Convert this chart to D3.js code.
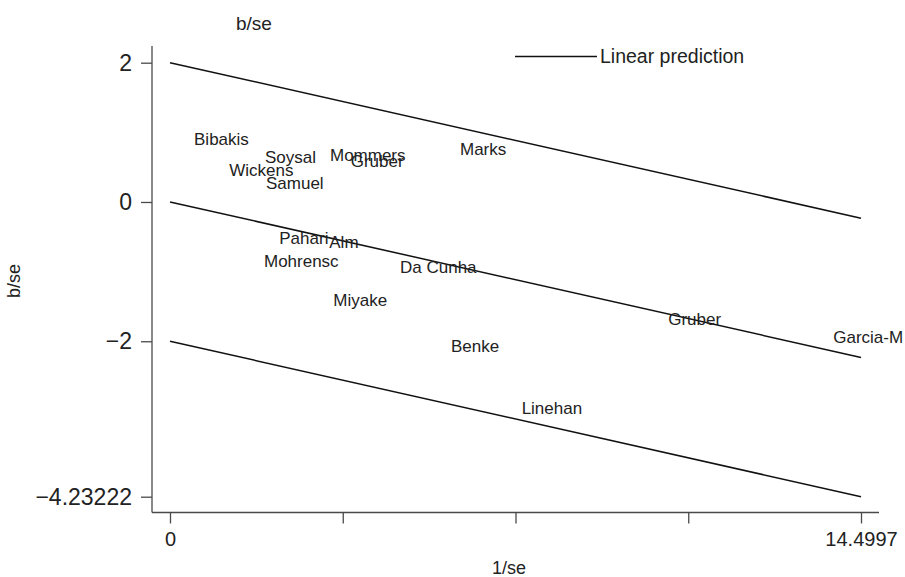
<!DOCTYPE html>
<html>
<head>
<meta charset="utf-8">
<script src="https://cdn.jsdelivr.net/npm/d3@7"></script>
<style>
  html, body { margin: 0; padding: 0; background: #fff; }
  svg { display: block; }
  text { font-family: "Liberation Sans", Arial, Helvetica, sans-serif; fill: #222; }
</style>
</head>
<body>
<svg id="chart" width="905" height="577"></svg>
<script>
// Study labels and their standardized coordinates (1/se, b/se)
const studies = ["Bibakis", "Soysal", "Wickens", "Samuel", "Mommers", "Gruber", "Marks",
                 "Pahari", "Alm", "Mohrensc", "Da Cunha", "Miyake", "Benke", "Gruber",
                 "Garcia-M", "Linehan"];
const precision = [0.504, 1.993, 1.244, 2.014, 3.357, 3.791, 6.085,
                   2.293, 3.342, 1.972, 4.826, 3.426, 5.896, 10.455,
                   13.917, 7.379];
const zScore = [0.905, 0.650, 0.459, 0.269, 0.675, 0.593, 0.761,
                -0.521, -0.579, -0.847, -0.938, -1.407, -2.068, -1.684,
                -1.943, -2.962];

// Fitted line (through origin) and the ±2 bands
const slope = -0.15395;
const intercepts = [2, 0, -2];

// Axis ticks
const xTicks = [0, 3.624925, 7.24985, 10.874775, 14.4997];
const xTickLabels = ["0", "", "", "", "14.4997"];
const yTicks = [2, 0, -2, -4.23222];
const yTickLabels = ["2", "0", "\u22122", "\u22124.23222"];

const svg = d3.select("#chart");

const x = d3.scaleLinear().domain([0, 14.4997]).range([170, 861]);
const y = d3.scaleLinear().domain([-4.23222, 2]).range([496.7, 62.7]);

// Axes
const axisColor = "#4a4a4a";
svg.append("line")
  .attr("x1", 152).attr("x2", 152).attr("y1", 46).attr("y2", 512.5)
  .attr("stroke", axisColor).attr("stroke-width", 1.3);
svg.append("line")
  .attr("x1", 152).attr("x2", 879).attr("y1", 512.5).attr("y2", 512.5)
  .attr("stroke", axisColor).attr("stroke-width", 1.3);

const yAxis = d3.axisLeft(y)
  .tickValues(yTicks)
  .tickFormat((d, i) => yTickLabels[i])
  .tickSize(11).tickPadding(9);
const gy = svg.append("g").attr("transform", "translate(152,0)").call(yAxis);
gy.select(".domain").remove();
gy.selectAll(".tick line").attr("stroke", axisColor).attr("stroke-width", 1.3);
gy.selectAll(".tick text").attr("font-size", 23).attr("font-family", "Liberation Sans, Arial, sans-serif").attr("fill", "#222");

const xAxis = d3.axisBottom(x)
  .tickValues(xTicks)
  .tickFormat((d, i) => xTickLabels[i])
  .tickSize(11).tickPadding(8);
const gx = svg.append("g").attr("transform", "translate(0,512.5)").call(xAxis);
gx.select(".domain").remove();
gx.selectAll(".tick line").attr("stroke", axisColor).attr("stroke-width", 1.3);
gx.selectAll(".tick text").attr("font-size", 20).attr("font-family", "Liberation Sans, Arial, sans-serif").attr("fill", "#222");

// Axis titles
svg.append("text").attr("x", 509).attr("y", 574).attr("text-anchor", "middle")
  .attr("font-size", 18).text("1/se");
svg.append("text").attr("transform", "translate(20,281) rotate(-90)").attr("text-anchor", "middle")
  .attr("font-size", 18).text("b/se");
svg.append("text").attr("x", 236).attr("y", 30).attr("font-size", 19).text("b/se");

// Regression line and bands
const xEnds = x.domain();
svg.append("g").selectAll("line").data(intercepts).join("line")
  .attr("x1", x(xEnds[0])).attr("y1", d => y(d + slope * xEnds[0]))
  .attr("x2", x(xEnds[1])).attr("y2", d => y(d + slope * xEnds[1]))
  .attr("stroke", "#111").attr("stroke-width", 1.5);

// Study labels
svg.append("g").selectAll("text").data(studies).join("text")
  .attr("x", (d, i) => x(precision[i]))
  .attr("y", (d, i) => y(zScore[i]))
  .attr("dy", "0.36em")
  .attr("font-size", 17)
  .text(d => d);

// Legend
svg.append("line").attr("x1", 515).attr("x2", 597).attr("y1", 56.5).attr("y2", 56.5)
  .attr("stroke", "#111").attr("stroke-width", 1.3);
svg.append("text").attr("x", 600).attr("y", 62.5).attr("font-size", 19.5).text("Linear prediction");
</script>
</body>
</html>
